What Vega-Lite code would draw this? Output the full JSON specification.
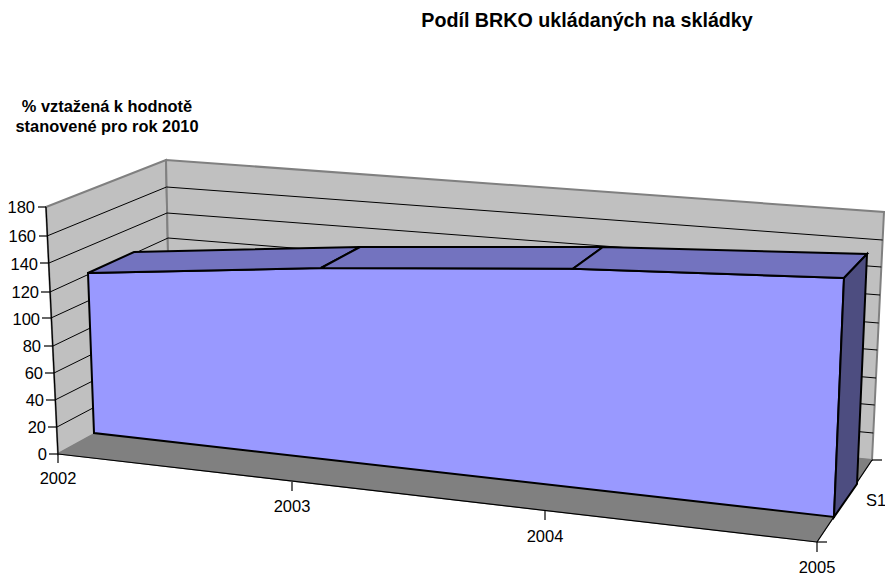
{
"$schema":"https://vega.github.io/schema/vega-lite/v6.json",
"width":885,"height":575,"padding":0,
"autosize":{"type":"none"},
"background":"white",
"config":{"view":{"stroke":null},"font":"Liberation Sans"},
"datasets":{
"shapes":[
{"part":"wall","id":"left","seq":1,"px":46,"py":207},{"part":"wall","id":"left","seq":2,"px":166,"py":160},{"part":"wall","id":"left","seq":3,"px":171,"py":392},{"part":"wall","id":"left","seq":4,"px":58,"py":454},
{"part":"wall","id":"back","seq":1,"px":166,"py":160},{"part":"wall","id":"back","seq":2,"px":884,"py":212},{"part":"wall","id":"back","seq":3,"px":872,"py":460},{"part":"wall","id":"back","seq":4,"px":171,"py":392},
{"part":"floor","id":"floor","seq":1,"px":58,"py":454},{"part":"floor","id":"floor","seq":2,"px":171,"py":392},{"part":"floor","id":"floor","seq":3,"px":872,"py":460},{"part":"floor","id":"floor","seq":4,"px":817,"py":542},
{"part":"front","id":"front","seq":1,"px":88,"py":273},{"part":"front","id":"front","seq":2,"px":321,"py":268},{"part":"front","id":"front","seq":3,"px":573,"py":268.7},{"part":"front","id":"front","seq":4,"px":844,"py":278},{"part":"front","id":"front","seq":5,"px":834,"py":517},{"part":"front","id":"front","seq":6,"px":94,"py":433},
{"part":"top","id":"t1","seq":1,"px":88,"py":273},{"part":"top","id":"t1","seq":2,"px":321,"py":268},{"part":"top","id":"t1","seq":3,"px":360,"py":247},{"part":"top","id":"t1","seq":4,"px":134,"py":252},
{"part":"top","id":"t2","seq":1,"px":321,"py":268},{"part":"top","id":"t2","seq":2,"px":573,"py":268.7},{"part":"top","id":"t2","seq":3,"px":603,"py":247},{"part":"top","id":"t2","seq":4,"px":360,"py":247},
{"part":"top","id":"t3","seq":1,"px":573,"py":268.7},{"part":"top","id":"t3","seq":2,"px":844,"py":278},{"part":"top","id":"t3","seq":3,"px":867,"py":254},{"part":"top","id":"t3","seq":4,"px":603,"py":247},
{"part":"side","id":"side","seq":1,"px":844,"py":278},{"part":"side","id":"side","seq":2,"px":867,"py":254},{"part":"side","id":"side","seq":3,"px":857,"py":484},{"part":"side","id":"side","seq":4,"px":834,"py":517}
],
"lines":[
{"part":"grid","id":"160","seq":1,"px":47,"py":236},{"part":"grid","id":"160","seq":2,"px":166.5,"py":187},{"part":"grid","id":"160","seq":3,"px":882.7,"py":240},
{"part":"grid","id":"140","seq":1,"px":49,"py":263},{"part":"grid","id":"140","seq":2,"px":167,"py":213},{"part":"grid","id":"140","seq":3,"px":881.3,"py":267},
{"part":"grid","id":"120","seq":1,"px":50,"py":292},{"part":"grid","id":"120","seq":2,"px":168,"py":238},{"part":"grid","id":"120","seq":3,"px":880,"py":295},
{"part":"grid","id":"100","seq":1,"px":51,"py":318},{"part":"grid","id":"100","seq":2,"px":168.5,"py":264},{"part":"grid","id":"100","seq":3,"px":878.7,"py":323},
{"part":"grid","id":"80","seq":1,"px":53,"py":346},{"part":"grid","id":"80","seq":2,"px":169,"py":290},{"part":"grid","id":"80","seq":3,"px":877.3,"py":350},
{"part":"grid","id":"60","seq":1,"px":54,"py":373},{"part":"grid","id":"60","seq":2,"px":169.5,"py":316},{"part":"grid","id":"60","seq":3,"px":876,"py":378},
{"part":"grid","id":"40","seq":1,"px":55,"py":400},{"part":"grid","id":"40","seq":2,"px":170,"py":342},{"part":"grid","id":"40","seq":3,"px":874.7,"py":405},
{"part":"grid","id":"20","seq":1,"px":57,"py":427},{"part":"grid","id":"20","seq":2,"px":170.5,"py":367},{"part":"grid","id":"20","seq":3,"px":873.3,"py":433},
{"part":"axis","id":"yaxis","seq":1,"px":46,"py":207},{"part":"axis","id":"yaxis","seq":2,"px":58,"py":454},
{"part":"axis","id":"xaxis","seq":1,"px":58,"py":454},{"part":"axis","id":"xaxis","seq":2,"px":817,"py":542},
{"part":"axis","id":"zaxis","seq":1,"px":817,"py":542},{"part":"axis","id":"zaxis","seq":2,"px":872,"py":460},
{"part":"axis","id":"y180","seq":1,"px":38,"py":207},{"part":"axis","id":"y180","seq":2,"px":46,"py":207},
{"part":"axis","id":"y160","seq":1,"px":39,"py":236},{"part":"axis","id":"y160","seq":2,"px":47,"py":236},
{"part":"axis","id":"y140","seq":1,"px":40,"py":263},{"part":"axis","id":"y140","seq":2,"px":49,"py":263},
{"part":"axis","id":"y120","seq":1,"px":41,"py":292},{"part":"axis","id":"y120","seq":2,"px":50,"py":292},
{"part":"axis","id":"y100","seq":1,"px":42,"py":318},{"part":"axis","id":"y100","seq":2,"px":51,"py":318},
{"part":"axis","id":"y80","seq":1,"px":44,"py":346},{"part":"axis","id":"y80","seq":2,"px":53,"py":346},
{"part":"axis","id":"y60","seq":1,"px":45,"py":373},{"part":"axis","id":"y60","seq":2,"px":54,"py":373},
{"part":"axis","id":"y40","seq":1,"px":46,"py":400},{"part":"axis","id":"y40","seq":2,"px":55,"py":400},
{"part":"axis","id":"y20","seq":1,"px":48,"py":427},{"part":"axis","id":"y20","seq":2,"px":57,"py":427},
{"part":"axis","id":"y0","seq":1,"px":49,"py":454},{"part":"axis","id":"y0","seq":2,"px":58,"py":454},
{"part":"axis","id":"x2002","seq":1,"px":58,"py":454},{"part":"axis","id":"x2002","seq":2,"px":58,"py":463},
{"part":"axis","id":"x2003","seq":1,"px":292,"py":482},{"part":"axis","id":"x2003","seq":2,"px":292,"py":491},
{"part":"axis","id":"x2004","seq":1,"px":545,"py":511},{"part":"axis","id":"x2004","seq":2,"px":545,"py":520},
{"part":"axis","id":"x2005","seq":1,"px":817,"py":542},{"part":"axis","id":"x2005","seq":2,"px":817,"py":552},
{"part":"axis","id":"z0","seq":1,"px":817,"py":542},{"part":"axis","id":"z0","seq":2,"px":827,"py":542},
{"part":"axis","id":"z1","seq":1,"px":872,"py":460},{"part":"axis","id":"z1","seq":2,"px":882,"py":460}
],
"ylabels":[
{"label":"180","px":35,"py":208},{"label":"160","px":36,"py":237},{"label":"140","px":38,"py":265},{"label":"120","px":39,"py":293},{"label":"100","px":40,"py":320},{"label":"80","px":41,"py":347},{"label":"60","px":43,"py":374},{"label":"40","px":44,"py":401},{"label":"20","px":46,"py":428},{"label":"0","px":47,"py":455}
],
"xlabels":[
{"label":"2002","px":58,"py":479},{"label":"2003","px":292,"py":507},{"label":"2004","px":545,"py":537},{"label":"2005","px":817,"py":567.5},{"label":"S1","px":876,"py":501}
],
"titles":[
{"label":"Podíl BRKO ukládaných na skládky","px":587,"py":21,"size":"big"},
{"label":"% vztažená k hodnotě","px":107,"py":107,"size":"small"},
{"label":"stanovené pro rok 2010","px":107,"py":127,"size":"small"}
]
},
"encoding":{
"x":{"field":"px","type":"quantitative","scale":{"domain":[0,885],"nice":false,"zero":false},"axis":null},
"y":{"field":"py","type":"quantitative","scale":{"domain":[575,0],"nice":false,"zero":false},"axis":null}
},
"layer":[
{"data":{"name":"shapes"},"transform":[{"filter":"datum.part=='wall'"}],"mark":{"type":"line","interpolate":"linear-closed","fill":"#c0c0c0","stroke":"#808080","strokeWidth":2},"encoding":{"detail":{"field":"id"},"order":{"field":"seq"}}},
{"data":{"name":"shapes"},"transform":[{"filter":"datum.part=='floor'"}],"mark":{"type":"line","interpolate":"linear-closed","fill":"#808080","stroke":"#808080","strokeWidth":1},"encoding":{"detail":{"field":"id"},"order":{"field":"seq"}}},
{"data":{"name":"lines"},"transform":[{"filter":"datum.part=='grid'"}],"mark":{"type":"line","stroke":"#000000","strokeWidth":1},"encoding":{"detail":{"field":"id"},"order":{"field":"seq"}}},
{"data":{"name":"lines"},"transform":[{"filter":"datum.part=='axis'"}],"mark":{"type":"line","stroke":"#000000","strokeWidth":1.2},"encoding":{"detail":{"field":"id"},"order":{"field":"seq"}}},
{"data":{"name":"shapes"},"transform":[{"filter":"datum.part=='front'"}],"mark":{"type":"line","interpolate":"linear-closed","fill":"#9999ff","stroke":"#000000","strokeWidth":2},"encoding":{"detail":{"field":"id"},"order":{"field":"seq"}}},
{"data":{"name":"shapes"},"transform":[{"filter":"datum.part=='top'"}],"mark":{"type":"line","interpolate":"linear-closed","fill":"#7373bf","stroke":"#000000","strokeWidth":2},"encoding":{"detail":{"field":"id"},"order":{"field":"seq"}}},
{"data":{"name":"shapes"},"transform":[{"filter":"datum.part=='side'"}],"mark":{"type":"line","interpolate":"linear-closed","fill":"#4d4d80","stroke":"#000000","strokeWidth":2},"encoding":{"detail":{"field":"id"},"order":{"field":"seq"}}},
{"data":{"name":"ylabels"},"mark":{"type":"text","align":"right","baseline":"middle","fontSize":16.5,"font":"Liberation Sans","color":"#000000"},"encoding":{"text":{"field":"label"}}},
{"data":{"name":"xlabels"},"mark":{"type":"text","align":"center","baseline":"middle","fontSize":16.5,"font":"Liberation Sans","color":"#000000"},"encoding":{"text":{"field":"label"}}},
{"data":{"name":"titles"},"transform":[{"filter":"datum.size=='big'"}],"mark":{"type":"text","align":"center","baseline":"middle","fontSize":19.7,"fontWeight":"bold","font":"Liberation Sans","color":"#000000"},"encoding":{"text":{"field":"label"}}},
{"data":{"name":"titles"},"transform":[{"filter":"datum.size=='small'"}],"mark":{"type":"text","align":"center","baseline":"middle","fontSize":16.4,"fontWeight":"bold","font":"Liberation Sans","color":"#000000"},"encoding":{"text":{"field":"label"}}}
]
}
